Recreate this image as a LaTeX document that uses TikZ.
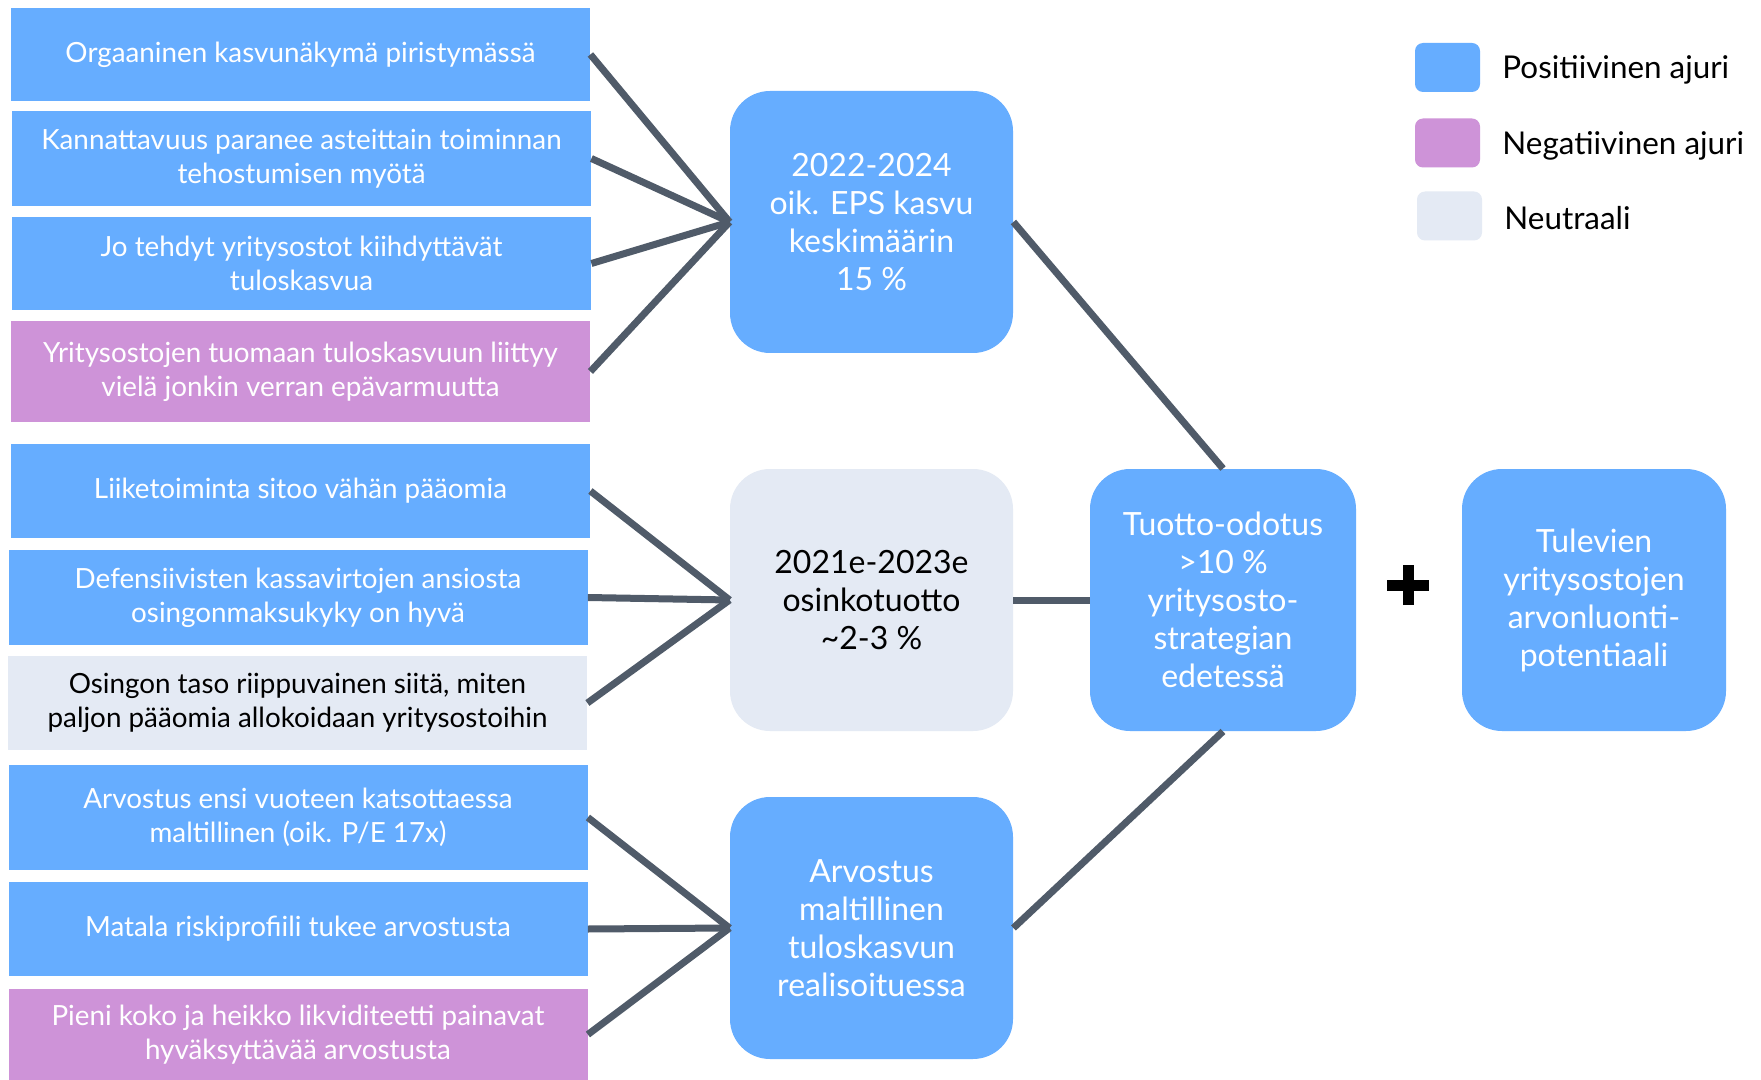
\documentclass[tikz,border=0pt]{standalone}
\usepackage{fontspec}
\setmainfont{Lato}
\definecolor{posblue}{RGB}{102,173,255}
\definecolor{negpink}{RGB}{206,147,216}
\definecolor{neutgray}{RGB}{228,234,244}
\definecolor{linkgray}{RGB}{80,91,105}
\tikzset{
  driver/.style={minimum width=289.5pt, inner sep=0pt, align=center, font=\fontsize{13.9}{16.8}\selectfont},
  drvpos/.style={driver, fill=posblue, text=white},
  drvneg/.style={driver, fill=negpink, text=white},
  drvneu/.style={driver, fill=neutgray, text=black},
  keybox/.style={rounded corners=20pt, minimum height=131pt, inner sep=0pt, align=center, fill=posblue, text=white, font=\fontsize{16}{19}\selectfont},
  swatch/.style={rounded corners=4pt, minimum width=32.5pt, minimum height=24.5pt, inner sep=0pt},
  legendtxt/.style={anchor=west, inner sep=0pt, font=\fontsize{15.7}{18}\selectfont},
  link/.style={draw=linkgray, line width=3.5pt},
  plusbar/.style={line width=5.5pt}
}
\begin{document}
\begin{tikzpicture}[x=0.5pt, y=-0.5pt]
                \useasboundingbox[fill=white] (0,0) rectangle (1761,1080);
                \node[drvpos, minimum height=46.5pt] (b1) at (300.5,54.5) {Orgaaninen kasvunäkymä piristymässä};
                \node[drvpos, minimum height=47.5pt] (b2) at (301.5,158.5) {Kannattavuus paranee asteittain toiminnan\\tehostumisen myötä};
                \node[drvpos, minimum height=46.5pt] (b3) at (301.5,263.5) {Jo tehdyt yritysostot kiihdyttävät\\tuloskasvua};
                \node[drvneg, minimum height=50.5pt] (b4) at (300.5,371.5) {Yritysostojen tuomaan tuloskasvuun liittyy\\vielä jonkin verran epävarmuutta};
                \node[drvpos, minimum height=47pt] (b5) at (300.5,491) {Liiketoiminta sitoo vähän pääomia};
                \node[drvpos, minimum height=47.5pt] (b6) at (298,597.5) {Defensiivisten kassavirtojen ansiosta\\osingonmaksukyky on hyvä};
                \node[drvneu, minimum height=47pt] (b7) at (297.5,703) {Osingon taso riippuvainen siitä, miten\\paljon pääomia allokoidaan yritysostoihin};
                \node[drvpos, minimum height=52.5pt] (b8) at (298,817.5) {Arvostus ensi vuoteen katsottaessa\\maltillinen (oik. P/E 17x)};
                \node[drvpos, minimum height=47pt] (b9) at (298,929) {Matala riskiprofiili tukee arvostusta};
                \node[drvneg, minimum height=45.5pt] (b10) at (298,1034.5) {Pieni koko ja heikko likviditeetti painavat\\hyväksyttävää arvostusta};
                \node[keybox, minimum width=141.5pt] (eps) at (871.5,222) {2022-2024\\oik. EPS kasvu\\keskimäärin\\15 \%};
                \node[keybox, minimum width=141.5pt, fill=neutgray, text=black] (div) at (871.5,600) {2021e-2023e\\osinkotuotto\\\textasciitilde2-3 \%};
                \node[keybox, minimum width=141.5pt] (val) at (871.5,928) {Arvostus\\maltillinen\\tuloskasvun\\realisoituessa};
                \node[keybox, minimum width=133pt] (ret) at (1223,600) {Tuotto-odotus\\>10 \%\\yritysosto-\\strategian\\edetessä};
                \node[keybox, minimum width=132pt] (acq) at (1594,600) {Tulevien\\yritysostojen\\arvonluonti-\\potentiaali};
                \foreach \b in {b1,b2,b3,b4} \draw[link] (\b.east) -- (eps.west);
                \foreach \b in {b5,b6,b7} \draw[link] (\b.east) -- (div.west);
                \foreach \b in {b8,b9,b10} \draw[link] (\b.east) -- (val.west);
                \draw[link] (eps.east) -- (ret.north);
                \draw[link] (div.east) -- (ret.west);
                \draw[link] (val.east) -- (ret.south);
                \coordinate (plus) at (1408,585);
                \draw[plusbar] ([xshift=-10.5pt]plus) -- ([xshift=10.5pt]plus);
                \draw[plusbar] ([yshift=-10pt]plus) -- ([yshift=10pt]plus);
                \node[swatch, fill=posblue] (lpos) at (1447.5,67.5) {};
                \node[swatch, fill=negpink] (lneg) at (1447.5,143) {};
                \node[swatch, fill=neutgray] (lneu) at (1449.5,216) {};
                \node[legendtxt] (tpos) at (1502,70) {Positiivinen ajuri};
                \node[legendtxt] (tneg) at (1502,146) {Negatiivinen ajuri};
                \node[legendtxt] (tneu) at (1504,218) {Neutraali};
                \end{tikzpicture}
\end{document}
